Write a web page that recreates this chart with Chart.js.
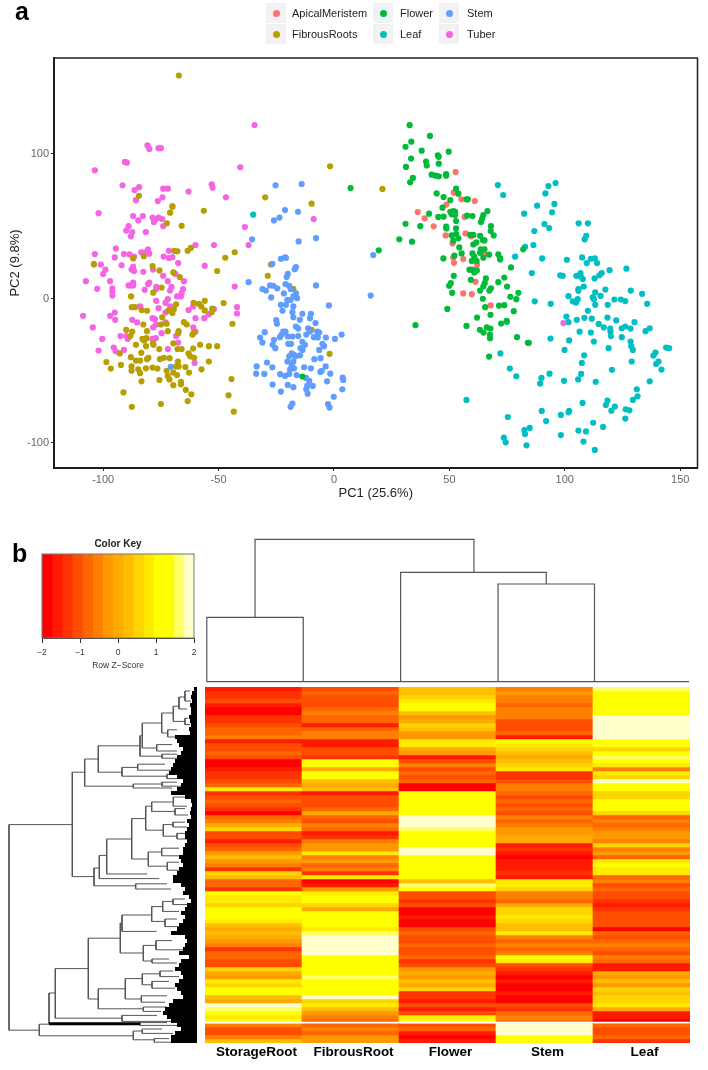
<!DOCTYPE html>
<html>
<head>
<meta charset="utf-8">
<script src="https://cdn.jsdelivr.net/npm/chart.js@4/dist/chart.umd.min.js"></script>
<style>
body { margin: 0; background: #fff; font-family: "Liberation Sans", Arial, sans-serif; }
#page { position: relative; width: 708px; height: 1070px; overflow: hidden; }
canvas { position: absolute; }
.panel { position: absolute; font-weight: bold; font-size: 25px; line-height: 25px; color: #000; }
.key { position: absolute; width: 20px; height: 20px; background: #f2f2f2; }
.key i { position: absolute; left: 6.5px; top: 6.5px; width: 7px; height: 7px; border-radius: 50%; }
.lab { position: absolute; font-size: 11px; line-height: 20px; color: #222; white-space: nowrap; }
</style>
</head>
<body>
<div id="page">
  <canvas id="pca" width="708" height="510" style="left:0;top:0"></canvas>
  <canvas id="colorKey" width="180" height="150" style="left:30px;top:530px"></canvas>
  <canvas id="topTree" width="500" height="160" style="left:200px;top:530px"></canvas>
  <canvas id="leftTree" width="200" height="370" style="left:0;top:680px"></canvas>
  <canvas id="heat" width="500" height="390" style="left:200px;top:680px"></canvas>
  <div class="panel" style="left:15px;top:-1px">a</div>
  <div class="panel" style="left:12px;top:541px">b</div>
</div>
<script>
// --- PCA scatter, [PC1, PC2]
const tuber = [[-34.4,120],[-80.8,106],[-80,103.5],[-76,104],[-75,104],[-103.6,88.7],[-90.6,94.5],[-89.7,94],[-40.6,90.8],[-91.6,78.3],[-84.4,77],[-86.4,75],[-74,76],[-72,76],[-63,74],[-53,79],[-52.6,76.7],[-46.8,70],[-74.3,70],[-76.3,67.4],[-85.8,68],[-70,64],[-102,59],[-87,57],[-82.8,57],[-84.8,54],[-78.6,56],[-76,56],[-74.4,55],[-77,55],[-78,53],[-74,50],[-89,50],[-90,47],[-87.4,46],[-88,43],[-81.5,46],[-38.6,49.4],[-8.8,55],[-52,37],[-37,37],[-60,37],[-94.5,34.6],[-103.6,30.7],[-95,28.4],[-91,30.7],[-88.6,30.5],[-86.6,29],[-83.5,32],[-81.8,32],[-80.6,34],[-80,31],[-71.5,33],[-73.8,29],[-71.5,28],[-70,28.6],
[-104,24],[-101,23.5],[-99,20],[-100,17],[-92,23],[-87,22],[-87.7,20],[-86.6,19],[-82.6,18.5],[-78.4,20],[-74,15.7],[-68.7,17],[-67.5,24.5],[-56,22.6],[-107.5,12],[-97,12],[-102.6,6.7],[-96,7],[-96,5],[-96,2],[-89,9],[-87,11],[-88,9],[-87,9],[-82,6],[-80.6,10],[-80,11],[-77,8],[-77,6.5],[-72,12],[-70.4,8],[-71,5.5],[-65,12],[-65.4,6.5],[-66,3.7],[-66.3,1.4],[-43,8.3],[-77,-1.6],[-72,-0.5],[-68,1.4],[-76,-6.7],[-73,-3],[-73,-9.7],[-71,-5.5],[-84,-5.5],[-63,-8],[-61,-5.5],[-42,-6],[-42,-10.4],[-52,-7.4],[-54.3,-11],[-56.2,-13.6],[-60,-13.6],[-108.7,-12],[-97,-12],[-95,-9.7],[-94.8,-14.8],[-87.4,-14.8],[-85.3,-16.6],[-78.6,-13.6],[-77.6,-14.3],[-78.3,-20],[-77,-18],[-73,-16.6],[-104.5,-20],[-100.4,-28],[-102,-36],[-95.4,-34],[-94.6,-36.5],[-91,-35.6],[-92.5,-26],[-90,-26],[-89.4,-28],[-78.6,-28],[-77.2,-27.5],[-74.7,-24],[-68.4,-26],[-61,-20],[-60,-23],[-67.5,-30.5],[-72,-35],[-60.4,-44.6],[99.4,-17]];
const fibrousRoots = [[-67.2,154.3],[-1.7,91.5],[-84.5,71],[-29.8,70],[-9.7,65.6],[-56.4,60.7],[-71,59.4],[-70,63.5],[-72.4,52],[-66,50.3],[-62,35],[-63.4,33],[-69.2,33],[-67.8,32.6],[-43,32],[-47.1,28.2],[-87,27.7],[-82.4,29.3],[21,75.8],
[-104,23.5],[-27.3,23.5],[-28.7,15.7],[-50.6,19],[-75.6,19.4],[-78.6,22.4],[-69.6,18],[-66.8,14.8],[-74.7,7.6],[-78.3,4],[-87.9,1.4],[-17.6,6.7],[-87.6,-6],[-86.2,-6],[-83.3,-8],[-81,-8.5],[-68.4,-4],[-71.8,-8.5],[-70,-10],[-69.4,-7.4],[-74.4,-13],[-60.8,-3],[-58.5,-3.7],[-56,-1.6],[-56,-8.3],[-53,-9.5],[-52.7,-7],[-47.8,-3.2],[-57.5,-5.5],[-44,-17.5],[-82.6,-18],[-75,-18],[-72.5,-17.5],[-65,-16.4],[-63.8,-18],[-81,-22.6],[-72,-22.6],[-67.3,-22.6],[-67.5,-24],[-60.7,-23.6],[-61.3,-25],[-90,-21.7],[-87.4,-23],[-88.2,-26],[-83,-28],[-81.2,-27.5],[-82.3,-29],[-85.8,-32],[-81.4,-33],[-78.2,-32],[-78.4,-31],[-69.6,-31],[-58,-32],[-54.2,-33],[-50.6,-33],[-67.8,-35],[-66,-35],[-61,-34.6],[-75.7,-35],[-92.8,-38],[-83.5,-37.6],[-88,-40.6],[-85.8,-43],[-84,-43],[-81,-42],[-80.4,-41],[-63,-38],[-62.3,-40],[-60.6,-41],[-75.4,-42],[-73.7,-41],[-71.2,-41.3],[-67.6,-43.6],[-54.2,-43.6],[-98.6,-44],[-96.7,-48.5],[-92.3,-46],[-87.7,-47],[-87.7,-50],[-84.8,-49],[-84,-51.7],[-81.5,-48.3],[-78.6,-47.8],[-76.5,-48.5],[-72.5,-50],[-68.4,-47],[-67.3,-47],[-64.4,-47.4],[-57.4,-49],[-62.8,-51.3],[-69.6,-51.3],[-68,-53],[-83.4,-57.3],[-75.6,-56.4],[-72,-53.6],[-71.3,-56],[-44.4,-55.7],[-66.3,-57.7],[-66.3,-59.4],[-69.6,-60],[-91.2,-65],[-64.2,-63.3],[-61.8,-66.3],[-45.7,-67],[-63.4,-71],[-87.6,-75],[-75,-73],[-43.4,-78.3],[-1.9,-38.3],[-9.7,-21.7]];
const stem = [[-14,79.2],[-25.3,78.3],[-21.2,61.2],[-15.6,60],[-23.6,56],[-26,54],[-7.8,41.8],[-15.3,39.5],[-35.5,40.9],[-23,27.5],[-21.2,28.4],[-20.8,28.2],[17,30],[15.9,2],
[-26.7,24],[-16.5,21.7],[-17,20.3],[-37,11.3],[-20,17],[-20.5,14.8],[-21,10],[-27.7,9],[-26.3,8.8],[-24.6,7],[-31,6.5],[-29.5,5.5],[-7.8,9],[-19.4,8.8],[-18.8,6.5],[-21.7,3.5],[-16.5,3.7],[-27.2,0.7],[-17.6,1.4],[-16,0.2],[-20.2,-1],[-18.8,-1],[-23,-4.4],[-20.8,-4.4],[-17.6,-5.5],[-2.2,-4.8],[-22.3,-8.5],[-18,-9.5],[-17.6,-13],[-13.7,-10.6],[-10,-10.6],[-10.4,-13.6],[-14.8,-14.8],[-25,-15],[-24.7,-17.5],[-8,-17],[-16.5,-19.4],[-15.5,-20.8],[-11.2,-20.6],[-10.4,-22.8],[-30,-23.3],[-22,-23],[-21,-23],[-22.7,-25],[-23.4,-26.8],[-7.2,-23],[-6.4,-23.6],[3.3,-25],[0.4,-28],[-32,-27],[-31,-30.5],[-26,-28.6],[-26.6,-32],[-25.4,-34.4],[-20,-26.3],[-18,-26.3],[-15.5,-26],[-12,-25],[-8.7,-26.8],[-7,-27],[-3.5,-27],[-5,-31.4],[-4.3,-33],[-6.4,-35.6],[-13.7,-30],[-19.8,-31.4],[-18.6,-31.4],[-12.6,-32],[-14.5,-34.4],[-13.6,-35.6],[-18.3,-38],[-17.3,-39],[-19.4,-40],[-16.6,-40],[-14.7,-39.3],[-5.8,-41.3],[-8.5,-42],[-20.2,-43.6],[-17.6,-43.6],[-18.3,-46],[-33.5,-47],[-29,-44.3],[-26.7,-47.6],[-12.9,-47.6],[-10,-48.3],[-3.6,-47],[-19,-49],[-17.3,-48.3],[-5.9,-50.8],[-5.3,-50],[-1.6,-52],[-33.7,-52],[-30.2,-52.2],[-23.3,-52.4],[-21.2,-53.6],[-19.4,-52.2],[-16.2,-53],[-12.1,-55],[-10.7,-57],[-3,-57.3],[3.8,-54.7],[4,-56.4],[-26.6,-59.6],[-20,-59.8],[-17.6,-61.4],[-11.6,-60.5],[-9.2,-60.5],[-12,-62.8],[3.6,-62.8],[-23,-64.4],[-11.4,-66],[-0.1,-68],[-2.6,-73],[-1.9,-75.5],[-18,-72.7],[-18.8,-75],[-70.7,-47.3]];
const flower = [[-13.7,-54],[7.2,76.4],[32.8,119.9],[41.6,112.5],[33.5,108.5],[31,105],[38,102.3],[49.7,101.6],[45,99],[45.4,98],[33.4,96.8],[39.9,94.7],[45.4,93.3],[40.2,92],[31.2,91],[42.3,85.7],[44,85],[45.4,84.5],[48.6,85],[48.6,86],[34.2,83.4],[33,80.4],[52.9,76],[53.9,72.5],[44.5,72.7],[47.5,70.2],[50.4,68],[57.4,68.6],[58,68.6],[47,62.8],[66.5,60.5],[50.4,60],[51.7,60.5],[52.5,60],[51,58.2],[52.5,57.7],[41.2,58.7],[45.2,56.4],[47.5,56.6],[57.7,57.3],[60,57],[64.7,57.7],[64.2,55.2],[63.7,53],[52.9,53.6],[31,51.7],[37.4,50],[48.6,49.7],[48.7,48.5],[52.9,48.5],[68,50],[67.9,46.7],[69.2,43.6],[52.9,44.6],[51,43.6],[53.9,41.6],[51.7,40],[59,44],[60.4,44],[63.3,43.4],[64.5,40.4],[65.2,40.2],[61.7,38.8],[60.4,37.4],[28.3,41],[33.8,39.3],[19.4,33.3],[54.3,35.3],[55.3,31.2],[63.6,34],[65.2,34],[63.3,31.6],[60,31.2],[71.2,30.5],[67.2,30.3],[82,34],[52.2,29.6],[47.4,27.7],[60.8,28.9],[64.7,28.2],[72,27.7],
[72,27],[59.7,26],[61.8,26],[76.7,21.5],[58.7,19.9],[60,19.9],[60.8,18],[61.9,19.4],[59.3,12.9],[65.8,13.9],[73.8,14.5],[71.2,11.3],[51.9,15.7],[50.6,10.6],[49.9,8.8],[65.3,10.6],[64.7,8.3],[75,8.3],[63.3,5.5],[68,7],[67.3,5.5],[51.2,3.9],[79.9,3.9],[76.4,1.2],[79,-0.5],[64.5,-0.2],[71.5,-5],[73.8,-4.6],[65.5,-6],[77.9,-8.8],[49.1,-7.2],[67.8,-11.3],[62,-13.2],[74.8,-15.5],[72.4,-17.3],[35.3,-18.5],[57.4,-19],[66.2,-20],[67.8,-20.8],[63.2,-21.7],[64.8,-23.6],[67.6,-25],[67.6,-27.5],[79.3,-26.8],[84,-30.7],[84.4,-30.7],[67.2,-40.2]];
const apicalMeristem = [[52.7,87.5],[51.9,73.2],[55.2,68.6],[61,67.4],[48.7,65],[36.3,59.8],[39.3,55.4],[56.6,56.4],[43.2,49.9],[48.4,43.6],[57,45],[59.4,43],[51.4,38],[65.2,31],[56,27.3],[51.7,28.4],[52,24.7],[62,23.3],[61.3,11.5],[56,3.5],[59.7,3],[67.9,-4.8]];
const leaf = [[-35,58],[71,78.5],[73.3,71.6],[96,79.9],[92.9,77.8],[91.6,72.7],[88,64.2],[95.5,65.4],[94.5,59.6],[82.4,58.7],[91.2,51.5],[93.2,48.7],[106,52],[110,52],[86.8,46.7],[109.3,43.4],[108.6,40.9],[82.8,35.8],[86.4,37],[78.5,28.9],[90.2,27.7],[100.9,26.8],[107.5,28.4],[111.3,27.5],[113,27.7],
[109.5,24.5],[114,24.5],[85.7,17.6],[98,16],[99.1,15.7],[105,15.7],[106.8,17.6],[107.8,13.4],[107,15],[112.9,13.9],[115,16],[116,17.6],[119.4,19.6],[126.7,20.6],[108.2,8.3],[105.9,6.5],[105.9,5.3],[117.6,6.2],[113.2,4.2],[128.6,5.5],[133.5,3.2],[101.6,1.6],[112.1,0.7],[112.6,-0.5],[115.5,1.8],[121.5,-0.7],[124.3,-0.7],[126.2,-1.8],[135.7,-3.7],[87,-2],[93.9,-3.7],[105.6,-0.5],[103.5,-2],[104.9,-2.8],[113.2,-4.4],[118.6,-4.4],[110,-8.5],[100.7,-12.5],[105.2,-14.8],[108.5,-13.4],[111.7,-14],[118.5,-13.2],[122.3,-15.2],[101.6,-16.4],[114.7,-17.6],[130.2,-16.4],[116.9,-20],[119.7,-20.8],[119.8,-23],[124.7,-20.6],[126.2,-19.4],[128.5,-20.8],[136.8,-20.6],[135,-22.6],[106.4,-23],[111.3,-23.6],[120,-26],[124.7,-26.8],[93.8,-27.7],[101.9,-29],[112.6,-29.8],[128.5,-29.8],[128.8,-33],[129.5,-35.6],[119,-34.4],[99.9,-35.6],[143.9,-34],[145.2,-34.4],[139.3,-37.4],[138.4,-39.5],[108.4,-39.3],[72.1,-38],[140.6,-43.6],[139.6,-45.3],[129,-43.6],[107.4,-44.6],[141.9,-49.2],[76.2,-48.5],[120.4,-49.4],[107.1,-52.2],[93.4,-52],[79,-53.8],[89.9,-55],[89.3,-58.9],[99.7,-57],[105.8,-56],[113.4,-57.7],[136.8,-57.3],[131.2,-62.8],[131.5,-67.7],[129.5,-70.2],[57.4,-70.2],[118.5,-70.7],[117.8,-73.7],[107.7,-72.3],[121.7,-74.8],[120.2,-77.6],[126.4,-76.7],[128,-77.4],[90,-77.8],[101.9,-77.8],[101.6,-78.8],[98.3,-80.6],[75.3,-82],[126.2,-83.1],[91.9,-84.8],[112.3,-86],[84.8,-89.6],[82.5,-91],[82.8,-93.8],[116.6,-88.9],[105.9,-91.4],[109.2,-92],[98.3,-94.5],[73.6,-96.3],[74.4,-99.5],[83.4,-101.6],[108.1,-99],[113,-104.8],[74.9,-16.2]];

const pcaTicksX = [-100, -50, 0, 50, 100, 150];
const pcaTicksY = [-100, 0, 100];

// --- heatmap: row z-scores per tissue, top row first
const heatColumns = ['StorageRoot', 'FibrousRoot', 'Flower', 'Stem', 'Leaf'];
const zStorageRoot = [-1.6,-1.5,-1.5,-1.3,-1.8,-1.9,-1.9,-1.5,-1.4,-1.1,-0.9,-1.0,-0.7,-1.7,-1.3,-1.1,-0.9,-1.3,-2,-1.9,-1.7,-1.4,-1.4,-1.1,-0.9,0.7,-1.4,-1.2,-1.0,-1.2,-1.5,-1.9,-1.0,-0.7,-0.1,0.3,-1.2,-1.3,-1.7,-1.1,-1.0,-0.4,0,-0.3,-0.8,-1.4,
0.4,0.1,-0.9,-0.9,-1.5,0.8,0.7,0.6,0.4,1.0,1.0,0.9,0.6,0.2,-0.1,0.2,-0.2,-0.4,-0.6,-1.5,-1.0,-0.9,-1.3,-1.2,0.3,-0.2,-0.3,0.6,0.3,0.8,0.8,0.2,-0.1,1.7,1.5,0.8,0.6,1.0,-0.7,-1.3,-1.2,-0.6,0];
const zFibrousRoot = [-1.1,-1.0,-1.1,-1.3,-1.2,-1.0,-0.8,-1.0,-0.9,-1.6,-1.0,-0.8,-0.7,-1.6,-1.7,-1.2,-1.1,-1.4,0.8,0.9,-0.2,1.2,1.1,0.2,-0.1,0.1,-1.7,-1.3,-1.1,-1.2,-1.0,-0.1,-1.0,-1.1,-0.7,-0.9,-1.6,-1.5,-0.6,-0.4,-0.3,0.6,-0.6,-0.4,-1.0,-0.8,
-1.4,0.7,-1.9,-1.8,-0.3,0.7,0.8,0.8,0.3,-0.1,0.8,0.9,0.8,0.8,0.6,1.4,1.7,1.8,1.9,1.9,1.7,1.3,0.9,1.2,1.3,1.2,1.4,1.0,1.2,1.0,0.9,1.6,0.4,0.7,0.2,-0.4,-0.7,-0.9,-0.9,-0.7,-1.0,-0.4,-0.3];
const zFlower = [0.2,0.1,0.3,0.7,0.9,0.9,0.1,-0.3,-0.2,0.3,0.2,-0.3,-0.5,0.7,0.6,-0.1,-0.3,-1.6,-1.1,-0.8,-1.2,-0.9,-1.2,-1.0,-2,-2,1.1,1.3,0.9,1.0,0.9,0.8,2,2,1.9,1.5,1.3,1.0,0.9,1.2,1.7,1.9,0.9,1.0,0.8,0.9,
0.9,0.8,0.1,1.5,0.8,-1.2,-1.2,-1.4,-1.2,-1.9,-1.9,-1.8,-1.9,-2,-1.1,-0.9,-1.1,-1.2,-0.9,-1.1,-1.2,-1.0,-1.4,-1.3,-0.3,-0.1,-0.4,0.1,-0.2,0.4,-1.5,-1.5,-1.7,-1.2,-1.6,-1.2,0.7,0.8,-1.2,-1.0,-1.7,-1.9,-1.8];
const zStem = [-0.6,-0.4,-0.7,-0.8,-0.9,-0.6,-0.8,-0.7,-1.1,-1.3,-1.1,-1.0,-1.6,0.8,0.6,0.5,0.1,-0.1,0,0.3,0.6,-1.4,-1.5,-1.3,-0.6,-0.8,-0.9,-1.2,-1.0,-1.2,-1.0,-1.2,-0.6,-0.9,-0.7,-0.4,-0.3,-0.1,-0.2,-1.6,-1.5,-1.7,-1.9,-1.8,-1.8,-1.8,
-1.5,-1.6,0.6,0.7,0.5,-0.8,-0.6,-0.9,-0.2,0.4,0.5,0.7,0.3,0,0.2,0.7,-0.7,-0.9,-0.8,-1.0,-0.7,0.8,0.7,-1.3,-1.5,-1.7,-1.9,-1.8,-1.9,-1.9,-1.8,-1.9,-1.9,-1.3,-1.4,-1.0,-0.8,-0.6,1.9,1.9,1.8,1.3,1.2];
const zLeaf = [1.5,1.2,1.3,1.0,0.9,1.3,0.8,1.9,1.8,1.7,1.9,1.9,1.7,0.8,1.0,0.5,1.0,1.5,1.1,0.7,-0.7,0.7,0.5,1.8,1.0,0.8,0.5,0.4,0.8,1.0,0.8,0.4,-0.9,-0.6,-1.0,-0.7,-0.5,-0.4,-0.6,0.3,-0.6,-0.5,-1.0,0.7,0.8,0.6,
0.7,-1.0,-0.6,-1.1,-0.9,-1.3,-1.2,-1.4,-1.8,-1.4,-1.2,-1.1,-1.3,-1.2,-1.9,-0.9,-1.3,-1.0,-0.7,-0.9,-1.1,-0.7,-0.9,-1.6,-1.7,-0.1,-0.3,0.1,-0.4,0.3,0.2,0.5,0.4,0.7,-0.2,-1.8,-1.8,-1.9,-1.0,-1.2,-1.3,-0.9,-1.4];
const heatGapRow = 83.9;

// --- colour key
const keyBreaks = [-2,-1.733,-1.467,-1.2,-0.933,-0.667,-0.4,-0.133,0.133,0.4,0.667,0.933,1.2,1.467,1.733,2];
const keyColors = ['#ff0000','#ff1a00','#ff3300','#ff4d00','#ff6600','#ff8000','#ff9900','#ffaa00','#ffbf00','#ffd500','#ffea00','#ffff00','#ffff00','#ffff66','#ffffcc'];

// --- column dendrogram: [left x, right x, height, left child height, right child height]
const topMerges = [[0,1,64.4,0,0],[3.02,4.02,97.7,0,0],[2.01,3.52,109.4,0,97.7],[0.5,2.77,142.4,64.4,109.4]];

// --- row dendrogram: [height, top row, bottom row, top child height, bottom child height]
const leftMerges = [[188,34.4,85.8,124.7,157.7],[124.7,21.3,47.4,112.3,103],[157.7,84.3,87.2,148,63.7],[112.3,18,24.8,98.7,63.7],[98.7,14.7,21.3,57,75],[57,12.2,17.3,54.7,35],[54.7,9,15.25,35.3,40.3],[35.3,6.5,11.5,23.7,29.3],[23.7,4.8,8.6,18,12],[18,2.5,5.5,12,10],[12,1,3.5,7,6],[12,7.8,9.4,9,7],[29.3,10.7,12.5,20,10],[40.3,14.4,16,25,20],[35,16.8,17.8,20,14],[75,20.1,22.3,59.3,30],[59.3,19.3,20.8,32,24],[30,21.8,22.9,22,14],[63.7,24.25,25.25,35,25],[35,23.8,24.8,20,14],
[103,45.25,49.7,97.7,61.3],[97.7,42.1,47.9,90.3,37.7],[90.3,38,46.75,65.3,49.7],[65.3,32.9,43,51.3,48.7],[51.3,29.8,35.8,45.3,33.7],[45.3,28.75,31.1,23.7,22],[23.7,27.5,29.8,12,10],[22,30.4,32,12,9],[33.7,34.4,37.3,24,20],[24,33.8,35,12,10],[20,36.6,38,12,10],[48.7,41.25,44.8,35.3,29.7],[35.3,40.3,42.2,18,12],[29.7,43.8,45.8,18,14],[61.3,49.2,50.5,30,26],
[141.7,70.4,82.8,108.7,75],[148,76.5,84.2,141.7,57],[108.7,62.8,78,76.7,98.7],[76.7,59,66.5,75,53.7],[75,57,61.1,45.3,40.3],[45.3,54.9,58.6,34.3,32],[34.3,53.6,56.1,24,18],[24,53,54.4,12,8],[32,58,59.9,20,14],[53.7,64.6,68.5,41,45],[41,63.4,65.7,25,12],[45,68,69,28,20],[98.7,75.45,80.45,71.7,53.7],[71.7,72.9,78,54.7,55.7],[54.7,71.7,74.45,37,45],[37,71,72.4,24,18],[45,73.6,75.3,28,22],[55.7,77.2,78.8,30,32],[53.7,80,81.1,30,36],[75,82.1,83.6,40,25],[57,83.9,84.6,30,20],[63.7,86,88.2,54.7,42.7],[54.7,85.5,86.6,35,24],[42.7,87.9,88.8,28,24]];
const thickBranch = [[148,84.2],[57,84.2]];
// where the dense leaves of each row begin
const leafStart = [3,5,6,5,7,6,6,8,7,6,8,7,22,20,18,14,16,20,22,24,26,28,20,14,16,20,26,12,6,5,6,7,6,10,8,10,12,12,10,12,14,14,18,16,14,18,20,24,24,16,12,14,8,6,10,12,16,12,14,18,20,26,12,10,12,14,18,8,16,18,22,16,14,18,22,20,16,14,24,28,32,34,30,26,20,16,22,26,26];

// legend, filled column by column
const legendNames = ['ApicalMeristem', 'FibrousRoots', 'Flower', 'Leaf', 'Stem', 'Tuber'];
const legendColors = ['#F8766D', '#B79F00', '#00BA38', '#00BFC4', '#619CFF', '#F564E3'];
const legendKeyX = [266, 266, 373, 373, 439, 439];
const legendTextX = [292, 292, 400, 400, 467, 467];
const legendY = [3, 24, 3, 24, 3, 24];

const page = document.getElementById('page');
legendNames.forEach((name, i) => {
    const key = document.createElement('div');
    key.className = 'key';
    key.style.left = legendKeyX[i] + 'px';
    key.style.top = legendY[i] + 'px';
    const dot = document.createElement('i');
    dot.style.background = legendColors[i];
    key.appendChild(dot);
    page.appendChild(key);
    const lab = document.createElement('div');
    lab.className = 'lab';
    lab.textContent = name;
    lab.style.left = legendTextX[i] + 'px';
    lab.style.top = legendY[i] + 'px';
    page.appendChild(lab);
});

Chart.defaults.font.family = '"Liberation Sans", Arial, sans-serif';
Chart.defaults.animation = false;
Chart.defaults.responsive = false;

// box round the plot area
const framePlugin = {
    id: 'frame',
    afterDraw(chart, args, opts) {
        const a = chart.chartArea, c = chart.ctx;
        c.save();
        c.strokeStyle = opts.color;
        c.lineWidth = opts.width;
        c.strokeRect(a.left, a.top, a.right - a.left, a.bottom - a.top);
        c.restore();
    }
};

const toPoints = rows => rows.map(r => ({ x: r[0], y: r[1] }));
const scatterSet = (rows, color) => ({
    data: toPoints(rows),
    backgroundColor: color,
    borderWidth: 0,
    pointRadius: 3.1
});

// --- a: PCA ---
new Chart(document.getElementById('pca'), {
    type: 'scatter',
    data: {
        datasets: [
            scatterSet(flower, legendColors[2]),
            scatterSet(stem, legendColors[4]),
            scatterSet(fibrousRoots, legendColors[1]),
            scatterSet(tuber, legendColors[5]),
            scatterSet(leaf, legendColors[3]),
            scatterSet(apicalMeristem, legendColors[0])
        ]
    },
    plugins: [framePlugin],
    options: {
        layout: { padding: { top: 58, right: 10.5 } },
        plugins: {
            legend: { display: false },
            tooltip: { enabled: false },
            frame: { color: '#222', width: 1.5 }
        },
        scales: {
            x: {
                min: -121.3, max: 157.5,
                afterFit: s => { s.height = 42; },
                afterBuildTicks: s => { s.ticks = pcaTicksX.map(v => ({ value: v })); },
                grid: { drawOnChartArea: false, tickLength: 3, color: '#333' },
                border: { color: '#111', width: 2 },
                ticks: { color: '#666', font: { size: 11 }, padding: 2, maxRotation: 0 },
                title: { display: true, text: 'PC1 (25.6%)', color: '#222', font: { size: 13 }, padding: { top: 0, bottom: 9 } }
            },
            y: {
                min: -117.3, max: 166.4,
                afterFit: s => { s.width = 54; },
                afterBuildTicks: s => { s.ticks = pcaTicksY.map(v => ({ value: v })); },
                grid: { drawOnChartArea: false, tickLength: 3, color: '#333' },
                border: { color: '#111', width: 2 },
                ticks: { color: '#666', font: { size: 11 }, padding: 2 },
                title: { display: true, text: 'PC2 (9.8%)', color: '#222', font: { size: 13 }, padding: { top: 8, bottom: 0 } }
            }
        }
    }
});

// --- b: colour key ---
new Chart(document.getElementById('colorKey'), {
    type: 'bar',
    data: {
        labels: ['key'],
        datasets: keyColors.map((color, i) => ({
            data: [[keyBreaks[i], keyBreaks[i + 1]]],
            backgroundColor: color,
            borderWidth: 0,
            barPercentage: 1,
            categoryPercentage: 1,
            grouped: false
        }))
    },
    plugins: [framePlugin],
    options: {
        indexAxis: 'y',
        layout: { padding: { left: 12, right: 16 } },
        plugins: {
            legend: { display: false },
            tooltip: { enabled: false },
            frame: { color: '#777', width: 1 },
            title: { display: true, text: 'Color Key', color: '#222', font: { size: 10, weight: 'bold' }, padding: { top: 8, bottom: 4 } }
        },
        scales: {
            y: { display: false },
            x: {
                type: 'linear',
                min: -2, max: 2,
                afterFit: s => { s.height = 42; },
                grid: { drawOnChartArea: false, tickLength: 5, color: '#333' },
                border: { color: '#333' },
                ticks: {
                    stepSize: 1,
                    color: '#333',
                    font: { size: 8.5 },
                    padding: 5,
                    maxRotation: 0,
                    callback: v => String(v).replace('-', '\u2212')
                },
                title: { display: true, text: 'Row Z\u2212Score', color: '#333', font: { size: 8.5 }, padding: { top: 0, bottom: 9 } }
            }
        }
    }
});

// --- dendrograms ---
const treeSet = (segments, width) => ({
    data: segments,
    showLine: true,
    spanGaps: false,
    borderColor: '#555',
    borderWidth: width,
    pointRadius: 0,
    clip: false
});
const gap = { x: null, y: null };
const hiddenScale = (min, max, reverse) => ({ type: 'linear', display: false, min, max, reverse: !!reverse });

const topSegments = [{ x: 0, y: 0 }, { x: 5, y: 0 }, gap];
topMerges.forEach(([x1, x2, h, h1, h2]) => {
    topSegments.push({ x: x1, y: h1 }, { x: x1, y: h }, { x: x2, y: h }, { x: x2, y: h2 }, gap);
});
new Chart(document.getElementById('topTree'), {
    type: 'scatter',
    data: { datasets: [treeSet(topSegments, 1.2)] },
    options: {
        layout: { padding: { left: 6.8, right: 11, bottom: 8.3 } },
        plugins: { legend: { display: false }, tooltip: { enabled: false } },
        scales: { x: hiddenScale(0, 5), y: hiddenScale(0, 151.7) }
    }
});

const leftSegments = [];
leftMerges.forEach(([h, r1, r2, h1, h2]) => {
    leftSegments.push({ x: h1, y: r1 }, { x: h, y: r1 }, { x: h, y: r2 }, { x: h2, y: r2 }, gap);
});
const leafSegments = [];
leafStart.forEach((d, row) => {
    leafSegments.push({ x: d, y: row + 0.5 }, { x: 0, y: row + 0.5 }, gap);
});
new Chart(document.getElementById('leftTree'), {
    type: 'scatter',
    data: {
        datasets: [
            { ...treeSet(leafSegments, 4), borderColor: '#000' },
            { ...treeSet(toPoints(thickBranch), 3), borderColor: '#000' },
            treeSet(leftSegments, 1)
        ]
    },
    options: {
        layout: { padding: { right: 3, top: 7, bottom: 7 } },
        plugins: { legend: { display: false }, tooltip: { enabled: false } },
        scales: { x: hiddenScale(0, 197, true), y: hiddenScale(0, 89, true) }
    }
});

// --- heatmap: one stacked dataset per row, coloured by its z-score ---
const heatValues = [zStorageRoot, zFibrousRoot, zFlower, zStem, zLeaf];
const zColor = z => keyColors[Math.min(keyColors.length - 1, Math.round((z + 2) / 4 * keyColors.length))];
const gapPlugin = {
    id: 'rowGap',
    afterDatasetsDraw(chart) {
        const y = chart.scales.y.getPixelForValue(heatGapRow), a = chart.chartArea, c = chart.ctx;
        c.save();
        c.strokeStyle = '#fff';
        c.lineWidth = 1.6;
        c.beginPath();
        c.moveTo(a.left, y);
        c.lineTo(a.right, y);
        c.stroke();
        c.restore();
    }
};
new Chart(document.getElementById('heat'), {
    type: 'bar',
    data: {
        labels: heatColumns,
        datasets: zStorageRoot.map((_, row) => ({
            data: heatColumns.map(() => 1),
            backgroundColor: heatValues.map(col => zColor(col[row])),
            borderWidth: 0,
            barPercentage: 1,
            categoryPercentage: 1
        }))
    },
    plugins: [gapPlugin],
    options: {
        layout: { padding: { left: 5, right: 10, top: 7 } },
        plugins: { legend: { display: false }, tooltip: { enabled: false } },
        scales: {
            x: {
                stacked: true,
                afterFit: s => { s.height = 27; },
                grid: { display: false, drawTicks: false },
                border: { display: false },
                ticks: { color: '#000', font: { size: 13.5, weight: 'bold' }, padding: 1, labelOffset: 3, maxRotation: 0 }
            },
            y: { stacked: true, display: false, reverse: true, min: 0, max: 89 }
        }
    }
});
</script>
</body>
</html>
